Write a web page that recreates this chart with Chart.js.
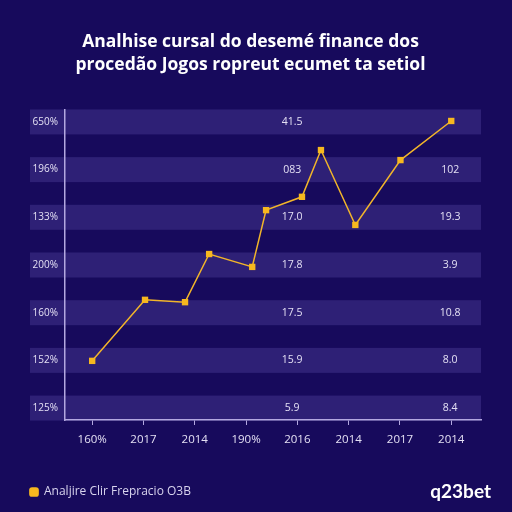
<!DOCTYPE html>
<html>
<head>
<meta charset="utf-8">
<script src="https://cdn.jsdelivr.net/npm/chart.js@4.4.1/dist/chart.umd.min.js"></script>
<style>
  html, body { margin: 0; padding: 0; background: #170a5c; }
  #wrap { width: 512px; height: 512px; }
</style>
</head>
<body>
<div id="wrap"><canvas id="trendChart" width="512" height="512"></canvas></div>
<script>
// category labels along the bottom, left to right
const xLabels = ['160%', '2017', '2014', '190%', '2016', '2014', '2017', '2014'];
// row labels on the left, bottom to top
const yLabels = ['125%', '152%', '160%', '200%', '133%', '196%', '650%'];
// values printed inside the rows (middle and right columns), bottom to top
const midLabels = ['5.9', '15.9', '17.5', '17.8', '17.0', '083', '41.5'];
const rightLabels = ['8.4', '8.0', '10.8', '3.9', '19.3', '102', ''];
// the series, in category / row units
const seriesX = [0, 1.03, 1.81, 2.28, 3.12, 3.39, 4.09, 4.46, 5.13, 6.01, 7.0];
const seriesY = [0.99, 2.27, 2.22, 3.23, 2.96, 4.15, 4.43, 5.41, 3.84, 5.20, 6.02];

const legendLabel = 'Analjire Clir Frepracio O3B';
const brandText = 'q23bet';

const rowBands = {
    id: 'rowBands',
    beforeDraw(chart) {
        const { ctx, chartArea, scales } = chart;
        ctx.save();
        ctx.fillStyle = '#170a5c';
        ctx.fillRect(0, 0, chart.width, chart.height);
        ctx.fillStyle = '#2e2076';
        yLabels.forEach((_, i) => {
            const y = scales.y.getPixelForValue(i);
            ctx.fillRect(chartArea.left - 35, y - 12.5, chartArea.right - chartArea.left + 35, 25);
        });
        ctx.fillStyle = '#e4e0f4';
        ctx.font = '10.5px "Open Sans"';
        ctx.textAlign = 'center';
        ctx.textBaseline = 'middle';
        const mx = scales.x.getPixelForValue(3.9);
        const rx = scales.x.getPixelForValue(6.98);
        midLabels.forEach((t, i) => ctx.fillText(t, mx, scales.y.getPixelForValue(i)));
        rightLabels.forEach((t, i) => ctx.fillText(t, rx, scales.y.getPixelForValue(i)));
        ctx.restore();
    },
    afterDraw(chart) {
        const ctx = chart.ctx;
        ctx.save();
        ctx.fillStyle = '#ffffff';
        ctx.font = 'bold 19px Lato';
        ctx.textAlign = 'right';
        ctx.textBaseline = 'middle';
        ctx.fillText(brandText, 491, 492);
        ctx.restore();
    }
};

const ctx = document.getElementById('trendChart').getContext('2d');
const trendChart = new Chart(ctx, {
    type: 'line',
    data: {
        datasets: [{
            label: legendLabel,
            data: seriesX.map((x, i) => ({ x: x, y: seriesY[i] })),
            borderColor: '#f2b52a',
            backgroundColor: '#f7b81f',
            borderWidth: 1.5,
            pointStyle: 'rect',
            pointRadius: 4.5,
            pointBorderWidth: 0,
            tension: 0
        }]
    },
    options: {
        responsive: false,
        animation: false,
        layout: { padding: { left: 20, right: 31, top: 0, bottom: 4 } },
        plugins: {
            title: {
                display: true,
                text: ['Analhise cursal do desemé finance dos', 'procedão Jogos ropreut ecumet ta setiol'],
                color: '#ffffff',
                font: { family: '"Open Sans"', size: 17.5, weight: 'bold', lineHeight: 1.3 },
                padding: { top: 31, bottom: 33.5 }
            },
            legend: {
                position: 'bottom',
                align: 'start',
                labels: {
                    color: '#d8d4ee',
                    font: { family: '"Open Sans"', size: 12 },
                    usePointStyle: true,
                    pointStyle: 'rectRounded',
                    boxWidth: 8,
                    boxHeight: 8,
                    padding: 10
                }
            },
            tooltip: { enabled: false }
        },
        scales: {
            x: {
                type: 'linear',
                min: -0.53,
                max: 7.58,
                afterFit(scale) { scale.height = 56; },
                afterBuildTicks(scale) { scale.ticks = xLabels.map((_, i) => ({ value: i })); },
                ticks: {
                    color: '#e4e0f4',
                    font: { family: '"Open Sans"', size: 11.5 },
                    padding: 8,
                    maxRotation: 0,
                    callback: (v) => xLabels[v]
                },
                grid: { drawOnChartArea: false, color: '#b3a8e0', tickLength: 5 },
                border: { color: '#b3a8e0', width: 1.5 }
            },
            y: {
                type: 'linear',
                min: -0.25,
                max: 6.25,
                afterFit(scale) { scale.width = 45; },
                afterBuildTicks(scale) { scale.ticks = yLabels.map((_, i) => ({ value: i })); },
                ticks: {
                    color: '#e4e0f4',
                    font: { family: '"Open Sans"', size: 10 },
                    padding: 7,
                    callback: (v) => yLabels[v]
                },
                grid: { display: false, tickLength: 0 },
                border: { color: '#b3a8e0', width: 1.5 }
            }
        }
    },
    plugins: [rowBands]
});
</script>
</body>
</html>
